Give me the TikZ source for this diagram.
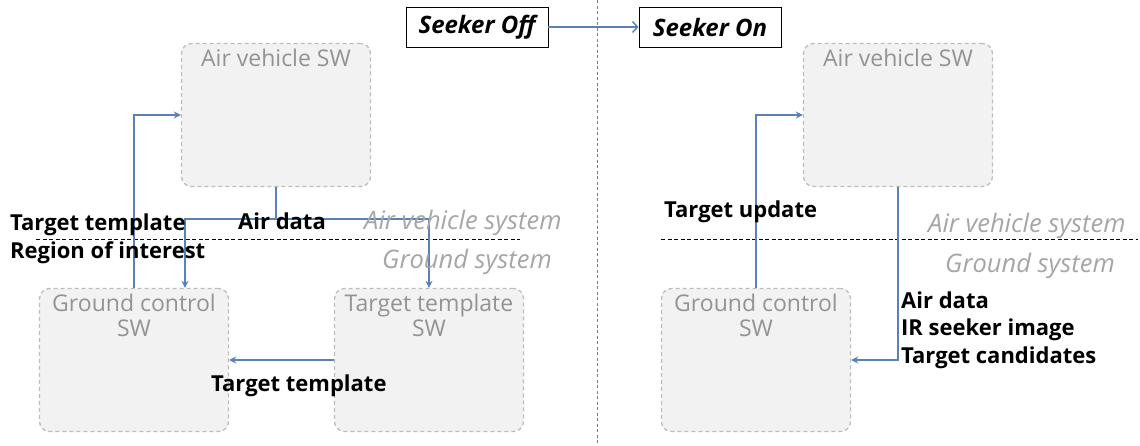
\documentclass[tikz,border=0pt]{standalone}
\usepackage{fontspec}
\setmainfont{Open Sans}
\usetikzlibrary{arrows.meta}
\definecolor{lnblue}{HTML}{5A82B5}
\definecolor{boxfill}{HTML}{F2F2F2}
\definecolor{boxline}{HTML}{BDBDBD}
\definecolor{boxtext}{HTML}{939393}
\definecolor{systext}{HTML}{A6A6A6}
\begin{document}
\begin{tikzpicture}[x=1pt,y=-1pt,
  swbox/.style={draw=boxline, fill=boxfill, dashed, dash pattern=on 4pt off 3pt, line width=1.3pt, rounded corners=10pt, minimum width=189pt, minimum height=143pt, inner sep=0pt},
  boxlbl/.style={text=boxtext, font=\fontsize{23}{25}\selectfont, align=center, inner sep=0pt, anchor=north},
  seekbox/.style={draw=black, line width=0.9pt, fill=white, minimum width=142pt, minimum height=40pt, inner sep=0pt, font=\fontsize{24}{26}\selectfont\bfseries\itshape},
  blbl/.style={font=\fontsize{22}{28}\selectfont\bfseries, text=black, inner sep=0pt, anchor=west, align=left},
  syslbl/.style={font=\fontsize{25.5}{28}\selectfont\itshape, text=systext, inner sep=0pt, anchor=west},
  arr/.style={draw=lnblue, line width=1.5pt, -{Stealth[length=7pt,width=7pt]}},
  ln/.style={draw=lnblue, line width=1.5pt},
  sep/.style={draw=black, line width=0.8pt, dash pattern=on 4pt off 2.5pt}
]
\useasboundingbox (0,0) rectangle (1140,445);
\fill[white] (0,0) rectangle (1140,445);

% divider
\draw[draw=lnblue, line width=1pt, dash pattern=on 3pt off 2.5pt] (597.5,0) -- (597.5,445);

% separators
\draw[sep] (36,239) -- (520,239);
\draw[sep] (661,239) -- (1138,239);

% seeker boxes
\node[seekbox] (soff) at (477,27) {Seeker Off};
\node[seekbox] (son) at (710,27) {Seeker On};
\draw[draw=lnblue, line width=1.5pt, -{Straight Barb[length=5pt,width=11pt]}] (soff) -- (son);

% left boxes
\node[swbox] (av1) at (276,115) {};
\node[boxlbl] (av1t) at ([yshift=-6pt]av1.north) {Air vehicle SW};
\node[swbox] (gc1) at (134,360) {};
\node[boxlbl] (gc1t) at ([yshift=-6pt]gc1.north) {Ground control\\SW};
\node[swbox] (tt) at (429,360) {};
\node[boxlbl] (ttt) at ([yshift=-6pt]tt.north) {Target template\\SW};

% right boxes
\node[swbox] (av2) at (898,115) {};
\node[boxlbl] (av2t) at ([yshift=-6pt]av2.north) {Air vehicle SW};
\node[swbox] (gc2) at (756,360) {};
\node[boxlbl] (gc2t) at ([yshift=-6pt]gc2.north) {Ground control\\SW};

% left connectors
\draw[arr] (gc1.north) |- (av1.west);
\coordinate (j1) at (av1.south |- 0,219);
\coordinate (gc1in) at ([xshift=51pt]gc1.north);
\draw[ln] (av1.south) -- (j1);
\draw[arr] (j1) -| (tt.north);
\draw[arr] (j1) -| (gc1in);
\draw[arr] (tt.west) -- (gc1.east);

% right connectors
\draw[arr] (gc2.north) |- (av2.west);
\draw[arr] (av2.south) |- (gc2.east);

% labels left
\node[blbl] (l1) at (10,225) {Target template};
\node[blbl] (l2) at (10,253) {Region of interest};
\node[blbl] (l3) at (238,221) {Air data};
\node[syslbl] (s1) at (364,223) {Air vehicle system};
\node[syslbl] (s2) at (382,262) {Ground system};
\node[blbl] (l4) at (211,386) {Target template};

% labels right
\node[blbl] (r1) at (664,212) {Target update};
\node[syslbl] (s3) at (928,226) {Air vehicle system};
\node[syslbl] (s4) at (945,266) {Ground system};
\node[blbl, font=\fontsize{22}{27.5}\selectfont\bfseries] (r2) at (901,330) {Air data\\IR seeker image\\Target candidates};
\end{tikzpicture}
\end{document}
